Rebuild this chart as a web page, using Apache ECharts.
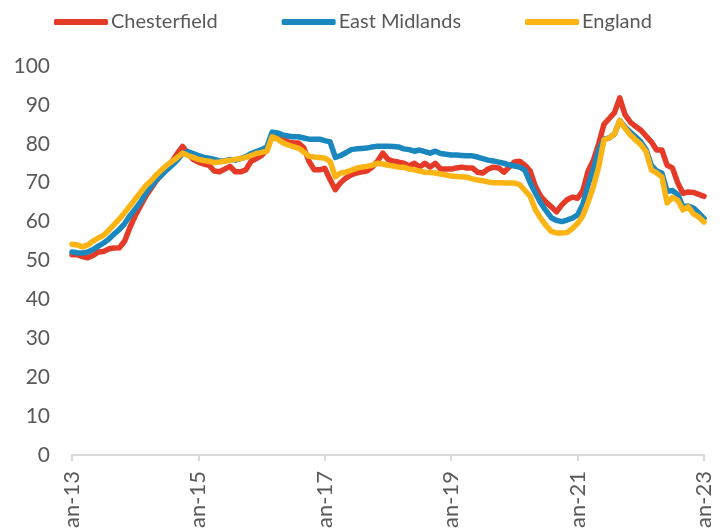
<!DOCTYPE html>
<html><head><meta charset="utf-8">
<script src="https://cdn.jsdelivr.net/npm/echarts@6/dist/echarts.min.js"></script>
<style>html,body{margin:0;padding:0;background:#fff}#c{width:724px;height:528px}</style>
</head><body><div id="c"></div>
<script>
const monthNames = ['Jan','Feb','Mar','Apr','May','Jun','Jul','Aug','Sep','Oct','Nov','Dec'];
const years = ['13','14','15','16','17','18','19','20','21','22','23'];
const seriesNames = ['Chesterfield','East Midlands','England'];
const yTicks = [0,10,20,30,40,50,60,70,80,90,100];

const chesterfield = [
51.5,51.5,51,50.7,51.3,52.2,52.3,53,53.2,53.3,55,58.5,
61.5,64,66.5,68.5,70.5,72,73.5,75.5,77.5,79.3,77.5,76,
75.3,74.8,74.5,73,72.8,73.5,74.2,72.8,72.8,73.3,75.5,76.2,
77,78.5,82.5,82,81.5,80.5,80.3,80.2,79,75.5,73.3,73.3,
73.7,70.8,68.2,70,71.2,72,72.5,72.8,73,74,75.5,77.6,
76,75.5,75.3,75,74.3,75,74,75,74,75,73.5,73.5,
73.5,73.8,74,73.8,73.8,72.7,72.5,73.5,74,73.8,72.7,74,
75.3,75.5,74.5,73,69,66.5,65,63.8,62.5,64.3,65.6,66.3,
66,68,73,75.8,80,85,86.5,88,91.8,87.5,85.6,84.5,
83.5,82,80.5,78.4,78.4,74.5,73.8,70,67.3,67.6,67.5,67,
66.5];
const eastMidlands = [
52.2,52,51.9,52.2,52.8,53.7,54.5,55.5,56.8,58,59.5,61.5,
63.2,65,67.3,69,70.7,72,73.3,74.5,75.8,77.5,78,77.5,
77,76.5,76.3,76,75.6,75.6,76,75.8,76.2,76.7,77.5,78,
78.5,79.2,83,82.8,82.3,82,81.8,81.8,81.5,81.2,81.2,81.2,
80.8,80.5,76.5,77,77.7,78.5,78.7,78.8,78.9,79.2,79.4,79.4,
79.4,79.3,79.2,78.7,78.5,78.1,78.4,78,77.6,78.1,77.5,77.3,
77.1,77.1,77,76.9,76.9,76.6,76.2,75.8,75.6,75.3,75,74.6,
74.3,74,73.2,70,67.3,64.8,62.8,61,60.3,60,60.4,60.9,
61.7,64.5,69.5,73.5,78.5,81.2,81.5,82.5,86,84.3,83,81.8,
80.5,78.5,74.5,73,72.5,67.8,68,67,63.8,64,63.5,62.2,
60.8];
const england = [
54.2,54,53.5,54,55,55.8,56.5,57.8,59.2,60.7,62.3,64,
65.8,67.5,69.2,70.5,72,73.3,74.5,75.5,76.5,77.6,77,76.5,
76,75.7,75.5,75.2,75.3,75.5,75.8,76,76.2,76.5,77,77.5,
77.8,78.1,81.8,81.2,80.3,79.7,79.3,78.9,77.9,76.8,76.6,76.5,
76.3,75.5,71.5,72.5,72.7,73.2,73.7,74,74.2,74.5,75,74.8,
74.5,74.3,74,74,73.5,73.3,73,72.7,72.6,72.5,72.2,72,
71.7,71.6,71.5,71.4,71,70.7,70.5,70.2,70,70,69.9,69.9,
69.9,69.5,68,66.5,63,60.8,59,57.5,57.1,57.1,57.2,58.2,
59.5,61.5,65,69,74,81,81.5,82.5,86,84,82.3,81,
79.8,78,73.3,72.5,71.5,64.8,66.2,65.5,63,63.8,62,61.2,
59.9];

const categories = [];
years.forEach((y, i) => {
  monthNames.forEach((m) => {
    if (i === years.length - 1 && m !== 'Jan') return;
    categories.push(m + '-' + y);
  });
});

const colors = ['#e63a28', '#1a87be', '#fcb415'];
const FONT = 'Lato';
const chart = echarts.init(document.getElementById('c'), null, {renderer: 'canvas'});
const dataList = [chesterfield, eastMidlands, england];
chart.setOption({
  animation: false,
  color: colors,
  textStyle: {fontFamily: FONT},
  legend: {
    left: 49, top: 7,
    icon: 'roundRect',
    itemWidth: 54, itemHeight: 6, itemGap: 64,
    textStyle: {fontSize: 20, color: '#595959', fontFamily: FONT, padding: [0,0,0,-2]},
    data: seriesNames
  },
  grid: {left: 72, right: 20, top: 66, bottom: 73, containLabel: false, outerBoundsMode: 'none'},
  xAxis: {
    type: 'category',
    data: categories,
    boundaryGap: false,
    axisLine: {lineStyle: {color: '#d9d9d9', width: 2}},
    axisTick: {show: true, interval: 23, length: 6, lineStyle: {color: '#d9d9d9', width: 2}},
    axisLabel: {interval: 23, rotate: 90, margin: 16, fontSize: 22, color: '#595959', fontFamily: FONT, hideOverlap: false},
    splitLine: {show: false}
  },
  yAxis: {
    type: 'value',
    min: yTicks[0], max: yTicks[yTicks.length - 1], interval: 10,
    axisLine: {show: false},
    axisTick: {show: false},
    splitLine: {show: false},
    axisLabel: {margin: 22, fontSize: 21, color: '#595959', fontFamily: FONT}
  },
  series: seriesNames.map((n, i) => ({
    name: n,
    type: 'line',
    data: dataList[i],
    showSymbol: false,
    symbol: 'none',
    smooth: false,
    lineStyle: {width: 5.5, color: colors[i], cap: 'round', join: 'round'}
  }))
});
</script>
</body></html>
